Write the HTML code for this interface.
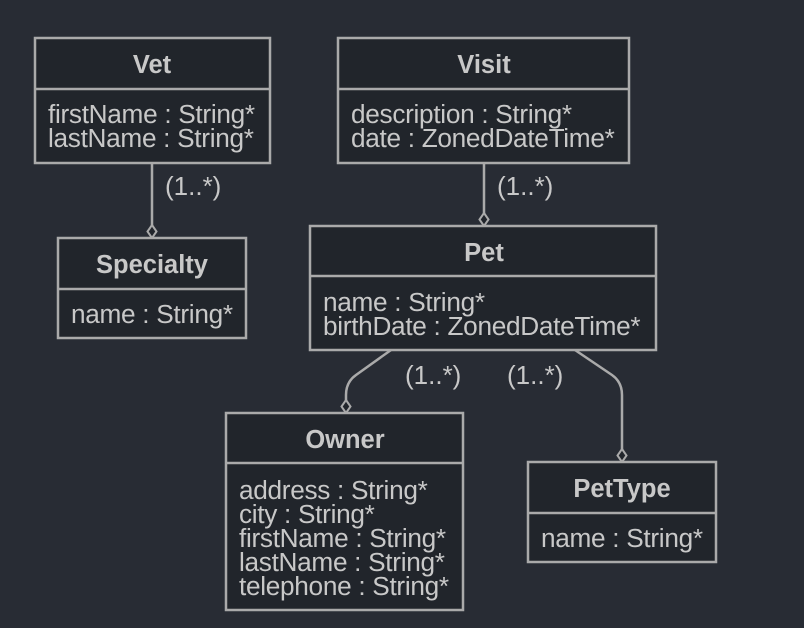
<!DOCTYPE html>
<html><head><style>
html,body{margin:0;padding:0;background:#282c34;}
svg{display:block}
text{font-family:"Liberation Sans",sans-serif;fill:#c8c8c8;font-size:26.2px;letter-spacing:-0.3px}
.h{font-weight:bold;text-anchor:middle;font-size:25.5px;letter-spacing:0}
.c{font-size:26px;letter-spacing:0}
rect{fill:#21252b;stroke:#aaaaaa;stroke-width:2.5}
.l{stroke:#aaaaaa;stroke-width:2.5;fill:none}
.d{fill:#21252b;stroke:#aaaaaa;stroke-width:2}
</style></head><body>
<svg width="804" height="628" viewBox="0 0 804 628">
<rect x="0" y="0" width="804" height="628" style="fill:#282c34;stroke:none"/>
<path class="l" d="M152 163 V227"/>
<path class="d" d="M152 225 l4.5 6.5 -4.5 6.5 -4.5 -6.5z"/>
<text class="c" x="165" y="195">(1..*)</text>
<path class="l" d="M484 163 V215"/>
<path class="d" d="M484 213 l4.5 6.5 -4.5 6.5 -4.5 -6.5z"/>
<text class="c" x="497" y="195">(1..*)</text>
<path class="l" d="M391 350 L356 375 Q346 382 346 395 V402"/>
<path class="d" d="M346 400 l4.5 6.5 -4.5 6.5 -4.5 -6.5z"/>
<text class="c" x="405" y="384">(1..*)</text>
<path class="l" d="M575 350 L612 375 Q622 382 622 395 V451"/>
<path class="d" d="M622 449 l4.5 6.5 -4.5 6.5 -4.5 -6.5z"/>
<text class="c" x="507" y="384">(1..*)</text>
<rect x="35" y="38" width="235" height="125"/>
<line class="l" x1="35" y1="89" x2="270" y2="89"/>
<text class="h" x="152" y="73">Vet</text>
<text x="48" y="123">firstName : String*</text>
<text x="48" y="147">lastName : String*</text>
<rect x="338" y="38" width="291" height="125"/>
<line class="l" x1="338" y1="89" x2="629" y2="89"/>
<text class="h" x="484" y="73">Visit</text>
<text x="351" y="123">description : String*</text>
<text x="351" y="147">date : ZonedDateTime*</text>
<rect x="58" y="238" width="188" height="100"/>
<line class="l" x1="58" y1="289" x2="246" y2="289"/>
<text class="h" x="152" y="273">Specialty</text>
<text x="71" y="323">name : String*</text>
<rect x="310" y="226" width="346" height="124"/>
<line class="l" x1="310" y1="276" x2="656" y2="276"/>
<text class="h" x="484" y="261">Pet</text>
<text x="323" y="311">name : String*</text>
<text x="323" y="335">birthDate : ZonedDateTime*</text>
<rect x="226" y="413" width="237" height="197"/>
<line class="l" x1="226" y1="463" x2="463" y2="463"/>
<text class="h" x="345" y="448">Owner</text>
<text x="239" y="499">address : String*</text>
<text x="239" y="523">city : String*</text>
<text x="239" y="547">firstName : String*</text>
<text x="239" y="571">lastName : String*</text>
<text x="239" y="595">telephone : String*</text>
<rect x="528" y="462" width="188" height="100"/>
<line class="l" x1="528" y1="513" x2="716" y2="513"/>
<text class="h" x="622" y="497">PetType</text>
<text x="541" y="547">name : String*</text>
</svg>
</body></html>
